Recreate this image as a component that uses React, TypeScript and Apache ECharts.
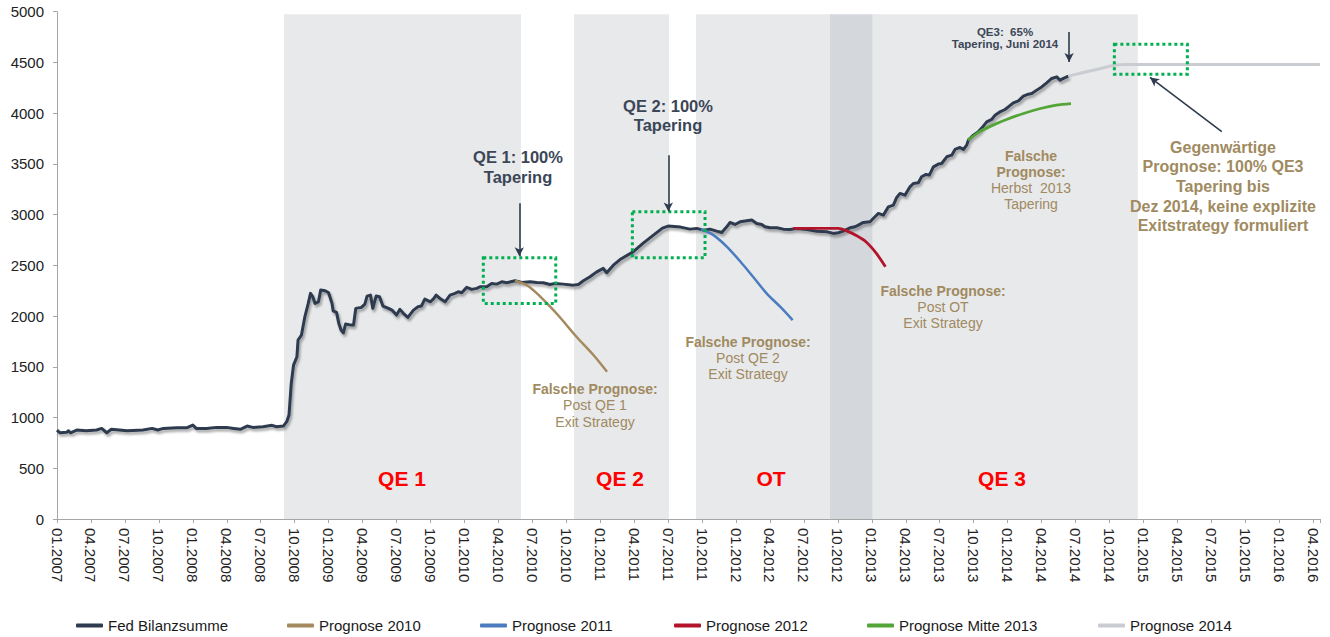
import React, { useEffect, useRef } from 'react';
import * as echarts from 'echarts';

// x values are months counted from 01.2007 (0 = 01.2007)
const quarterLabels = [
  '01.2007', '04.2007', '07.2007', '10.2007',
  '01.2008', '04.2008', '07.2008', '10.2008',
  '01.2009', '04.2009', '07.2009', '10.2009',
  '01.2010', '04.2010', '07.2010', '10.2010',
  '01.2011', '04.2011', '07.2011', '10.2011',
  '01.2012', '04.2012', '07.2012', '10.2012',
  '01.2013', '04.2013', '07.2013', '10.2013',
  '01.2014', '04.2014', '07.2014', '10.2014',
  '01.2015', '04.2015', '07.2015', '10.2015',
  '01.2016', '04.2016',
];

const fedBalance: [number, number][] = [
  [0, 877], [0.27, 850], [0.86, 854], [1.0, 870], [1.2, 850], [1.74, 877], [2.6, 870], [3.5, 877],
  [3.95, 893], [4.4, 850], [4.8, 884], [6.2, 870], [7.6, 877], [8.4, 893], [8.9, 877], [9.4, 893],
  [10.6, 900], [11.5, 900], [12.0, 926], [12.3, 893], [13.2, 893], [14.1, 903], [15.0, 903],
  [15.6, 893], [16.2, 884], [16.8, 916], [17.3, 903], [18.2, 909], [19.0, 923], [19.4, 909],
  [20.0, 916], [20.3, 959], [20.5, 1025], [20.7, 1337], [20.9, 1517], [21.2, 1599], [21.3, 1764],
  [21.6, 1813], [21.9, 1993], [22.2, 2125], [22.4, 2224], [22.6, 2190], [22.8, 2125], [23.1, 2141],
  [23.3, 2256], [23.7, 2249], [24.0, 2230], [24.3, 2125], [24.4, 2052], [24.7, 2036], [24.9, 1928],
  [25.1, 1862], [25.3, 1835], [25.5, 1921], [26.0, 1911], [26.2, 1911], [26.4, 2076], [26.9, 2086],
  [27.2, 2118], [27.4, 2197], [27.7, 2207], [27.9, 2076], [28.2, 2197], [28.5, 2190], [28.8, 2099],
  [29.3, 2076], [29.6, 2059], [30.0, 2010], [30.3, 2066], [30.6, 2027], [31.0, 1987], [31.5, 2059],
  [31.9, 2092], [32.2, 2099], [32.5, 2167], [33.0, 2141], [33.3, 2174], [33.5, 2207], [33.84, 2174],
  [34.29, 2141], [34.73, 2207], [35.17, 2224], [35.46, 2240], [35.76, 2230], [36.2, 2283], [36.65, 2263],
  [37.09, 2273], [37.38, 2289], [37.97, 2289], [38.41, 2322], [38.85, 2315], [39.3, 2338], [39.74, 2328],
  [40.47, 2348], [41.06, 2332], [41.8, 2338], [42.39, 2332], [42.97, 2328], [43.56, 2312], [44.01, 2322],
  [44.74, 2315], [45.62, 2305], [46.07, 2312], [46.51, 2348], [47.1, 2387], [47.69, 2436], [48.27, 2470],
  [48.57, 2427], [49.16, 2502], [49.75, 2557], [50.9, 2633], [51.8, 2719], [52.7, 2798], [53.5, 2867],
  [54.0, 2887], [55.1, 2877], [55.93, 2857], [56.53, 2864], [57.11, 2847], [57.7, 2857], [58.29, 2837],
  [58.74, 2824], [59.18, 2880], [59.47, 2923], [59.91, 2903], [60.36, 2929], [60.95, 2939], [61.39, 2946],
  [61.83, 2913], [62.27, 2903], [62.56, 2880], [63.01, 2870], [63.6, 2870], [64.18, 2857], [64.77, 2854],
  [65.36, 2864], [66.25, 2854], [67.13, 2837], [68.01, 2831], [68.6, 2815], [69.04, 2821], [69.48, 2837],
  [70.07, 2870], [70.52, 2880], [70.81, 2897], [71.25, 2923], [71.84, 2930], [72.28, 2979], [72.58, 3012],
  [73.02, 2995], [73.46, 3077], [73.9, 3094], [74.2, 3169], [74.49, 3209], [74.93, 3192], [75.37, 3274],
  [75.67, 3307], [76.11, 3314], [76.4, 3373], [76.79, 3396], [77.08, 3389], [77.44, 3471], [77.88, 3498],
  [78.17, 3504], [78.62, 3570], [79.06, 3586], [79.35, 3642], [79.79, 3662], [80.09, 3642], [80.38, 3685],
  [80.53, 3734], [80.97, 3783], [81.41, 3816], [81.85, 3872], [82.15, 3914], [82.59, 3938], [82.89, 3980],
  [83.33, 4013], [83.77, 4036], [84.06, 4062], [84.5, 4102], [84.95, 4121], [85.39, 4167], [85.83, 4187],
  [86.13, 4194], [86.57, 4227], [87.01, 4259], [87.45, 4299], [87.9, 4342], [88.34, 4358], [88.63, 4325],
  [88.93, 4342], [89.37, 4365],
];

const prognose2010: [number, number][] = [
  [40.47, 2348], [41.5, 2305], [42.4, 2224], [43.3, 2125], [44.4, 1993], [45.9, 1796], [47.4, 1616], [48.6, 1451],
];
const prognose2011: [number, number][] = [
  [56.9, 2858], [58.0, 2798], [59.2, 2683], [60.4, 2535], [61.5, 2387], [62.7, 2224], [63.9, 2092], [65.0, 1961],
];
const prognose2012: [number, number][] = [
  [65.06, 2864], [69.04, 2864], [69.78, 2840], [70.67, 2791], [71.5, 2730], [72.4, 2618], [73.2, 2486],
];
const prognoseMitte2013: [number, number][] = [
  [80.5, 3734], [81.5, 3816], [82.7, 3882], [83.9, 3938], [85.4, 3997], [86.9, 4046], [88.3, 4079], [89.6, 4095],
];
const prognose2014: [number, number][] = [
  [89.37, 4365], [90.5, 4395], [92.2, 4440], [93.3, 4470], [94.5, 4480], [111.6, 4480],
];

// shaded programme periods [from, to] in months
const bandQE1 = [20.06, 41.0];
const bandQE2 = [45.68, 54.08];
const bandOT = [56.46, 68.3];
const bandDark = [68.3, 72.08];
const bandQE3 = [72.08, 95.5];
const bandTop = 4975;

// dotted highlight boxes [x1, y1, x2, y2]
const boxes = [
  [37.67, 2574, 44.07, 2125],
  [50.84, 3028, 57.26, 2574],
  [93.43, 4680, 99.88, 4384],
];

// arrows [xFrom, yFrom, xTo, yTo]
const arrows = [
  [40.85, 3113, 40.85, 2590],
  [54.02, 3586, 54.02, 3030],
  [89.43, 4801, 89.43, 4505],
  [102.92, 3818, 96.58, 4352],
];

const seriesNames = ['Fed Bilanzsumme', 'Prognose 2010', 'Prognose 2011', 'Prognose 2012', 'Prognose Mitte 2013', 'Prognose 2014'];
const seriesColors = ['#2D3A4F', '#A48A5E', '#4A7CC0', '#B3142B', '#52A536', '#C9CCD1'];
const legendLeft = [71, 282, 475, 669, 862, 1093];

const FONT = '"Liberation Sans", Arial, Helvetica, sans-serif';
const TAN = '#A08A5F';
const DARK = '#3B4657';

type Ann = { t: string; x: number; y: number; s: number; b: boolean; c: string };
const annotations: Ann[] = [
  { t: 'QE 1', x: 402, y: 478, s: 21, b: true, c: '#FF0000' },
  { t: 'QE 2', x: 620, y: 478, s: 21, b: true, c: '#FF0000' },
  { t: 'OT', x: 771, y: 478, s: 21, b: true, c: '#FF0000' },
  { t: 'QE 3', x: 1002, y: 478, s: 21, b: true, c: '#FF0000' },
  { t: 'QE 1: 100%', x: 518, y: 157, s: 16.5, b: true, c: DARK },
  { t: 'Tapering', x: 518, y: 177, s: 16.5, b: true, c: DARK },
  { t: 'QE 2: 100%', x: 668, y: 106, s: 16.5, b: true, c: DARK },
  { t: 'Tapering', x: 668, y: 125, s: 16.5, b: true, c: DARK },
  { t: 'QE3:  65%', x: 1005, y: 31.5, s: 11.5, b: true, c: DARK },
  { t: 'Tapering, Juni 2014', x: 1005, y: 43.5, s: 11.5, b: true, c: DARK },
  { t: 'Falsche Prognose:', x: 595, y: 389, s: 14, b: true, c: TAN },
  { t: 'Post QE 1', x: 595, y: 405, s: 14, b: false, c: TAN },
  { t: 'Exit Strategy', x: 595, y: 421.5, s: 14, b: false, c: TAN },
  { t: 'Falsche Prognose:', x: 748, y: 341.5, s: 14, b: true, c: TAN },
  { t: 'Post QE 2', x: 748, y: 357.5, s: 14, b: false, c: TAN },
  { t: 'Exit Strategy', x: 748, y: 373.5, s: 14, b: false, c: TAN },
  { t: 'Falsche Prognose:', x: 943, y: 290.5, s: 14, b: true, c: TAN },
  { t: 'Post OT', x: 943, y: 306.5, s: 14, b: false, c: TAN },
  { t: 'Exit Strategy', x: 943, y: 322.5, s: 14, b: false, c: TAN },
  { t: 'Falsche', x: 1031, y: 155.5, s: 14, b: true, c: TAN },
  { t: 'Prognose:', x: 1031, y: 171.5, s: 14, b: true, c: TAN },
  { t: 'Herbst  2013', x: 1031, y: 187.5, s: 14, b: false, c: TAN },
  { t: 'Tapering', x: 1031, y: 204, s: 14, b: false, c: TAN },
  { t: 'Gegenwärtige', x: 1223, y: 147, s: 16, b: true, c: TAN },
  { t: 'Prognose: 100% QE3', x: 1223, y: 166.5, s: 16, b: true, c: TAN },
  { t: 'Tapering bis', x: 1223, y: 186, s: 16, b: true, c: TAN },
  { t: 'Dez 2014, keine explizite', x: 1223, y: 206, s: 16, b: true, c: TAN },
  { t: 'Exitstrategy formuliert', x: 1223, y: 225, s: 16, b: true, c: TAN },
];

export default function App() {
  const ref = useRef<HTMLDivElement>(null);

  useEffect(() => {
    document.body.style.margin = '0';
    if (!ref.current) return;
    const chart = echarts.init(ref.current, null, { renderer: 'svg' });

    const band = (r: number[], color: string) => [
      { xAxis: r[0], yAxis: 0, itemStyle: { color } },
      { xAxis: r[1], yAxis: bandTop },
    ];

    const lineSeries = (i: number, data: [number, number][], width: number, extra: any = {}) => ({
      name: seriesNames[i],
      type: 'line',
      data,
      symbol: 'none',
      smooth: i === 0 ? false : 0.3,
      color: seriesColors[i],
      lineStyle: { color: seriesColors[i], width, ...(extra.lineStyle || {}) },
      emphasis: { disabled: true },
      silent: true,
      z: 3,
      ...extra.rest,
    });

    const option: any = {
      animation: false,
      textStyle: { fontFamily: FONT },
      grid: { left: 57, right: 10, top: 11.7, bottom: 118, containLabel: false },
      xAxis: {
        type: 'value',
        min: 0,
        max: 111.6,
        interval: 3,
        axisLine: { show: true, lineStyle: { color: '#A6A6A6', width: 1 } },
        axisTick: { show: true, length: 4, lineStyle: { color: '#A6A6A6' } },
        splitLine: { show: false },
        axisLabel: {
          rotate: -90,
          margin: 9,
          fontSize: 15,
          color: '#222',
          fontFamily: FONT,
          formatter: (v: number) => (Math.abs(v % 3) < 1e-6 ? quarterLabels[Math.round(v / 3)] ?? '' : ''),
        },
      },
      yAxis: {
        type: 'value',
        min: 0,
        max: 5000,
        interval: 500,
        axisLine: { show: true, lineStyle: { color: '#A6A6A6', width: 1 } },
        axisTick: { show: true, length: 4, lineStyle: { color: '#A6A6A6' } },
        splitLine: { show: false },
        axisLabel: {
          margin: 13,
          fontSize: 15,
          color: '#222',
          fontFamily: FONT,
          formatter: (v: number) => String(v),
        },
      },
      legend: seriesNames.map((n, i) => ({
        data: [n],
        left: legendLeft[i],
        top: 613,
        icon: 'roundRect',
        itemWidth: 27,
        itemHeight: 4,
        selectedMode: false,
        textStyle: { fontSize: 15, color: '#1a1a1a', fontFamily: FONT },
      })),
      series: [
        lineSeries(0, fedBalance, 3, {
          lineStyle: { shadowColor: 'rgba(0,0,0,0.35)', shadowBlur: 2, shadowOffsetX: 1.5, shadowOffsetY: 2.5, join: 'round' },
          rest: {
            markArea: {
              silent: true,
              z: 1,
              label: { show: false },
              data: [
                band(bandQE1, '#E8E9EB'),
                band(bandQE2, '#E8E9EB'),
                band(bandOT, '#E8E9EB'),
                band(bandDark, '#D4D7DB'),
                band(bandQE3, '#E8E9EB'),
              ],
            },
          },
        }),
        lineSeries(1, prognose2010, 2.5),
        lineSeries(2, prognose2011, 2.5),
        lineSeries(3, prognose2012, 2.8),
        lineSeries(4, prognoseMitte2013, 2.8),
        lineSeries(5, prognose2014, 3),
        {
          name: 'annotations',
          type: 'line',
          data: [],
          silent: true,
          z: 5,
          markArea: {
            silent: true,
            z: 5,
            label: { show: false },
            itemStyle: { color: 'rgba(0,0,0,0)', borderColor: '#00B050', borderWidth: 3, borderType: [3, 3] },
            data: boxes.map((b) => [
              { coord: [b[0], b[1]] },
              { coord: [b[2], b[3]] },
            ]),
          },
          markLine: {
            silent: true,
            z: 6,
            symbol: ['none', 'arrow'],
            symbolSize: [7, 9],
            label: { show: false },
            lineStyle: { color: '#2E3B4E', width: 1.6, type: 'solid' },
            data: arrows.map((a) => [
              { coord: [a[0], a[1]] },
              { coord: [a[2], a[3]] },
            ]),
          },
        },
      ],
      graphic: annotations.map((a) => ({
        type: 'text',
        x: a.x,
        y: a.y,
        z: 50,
        silent: true,
        style: {
          text: a.t,
          fill: a.c,
          fontSize: a.s,
          fontWeight: a.b ? 'bold' : 'normal',
          fontFamily: FONT,
          align: 'center',
          verticalAlign: 'middle',
        },
      })),
    };

    chart.setOption(option);
    return () => chart.dispose();
  }, []);

  return <div ref={ref} style={{ width: 1330, height: 637 }} />;
}
